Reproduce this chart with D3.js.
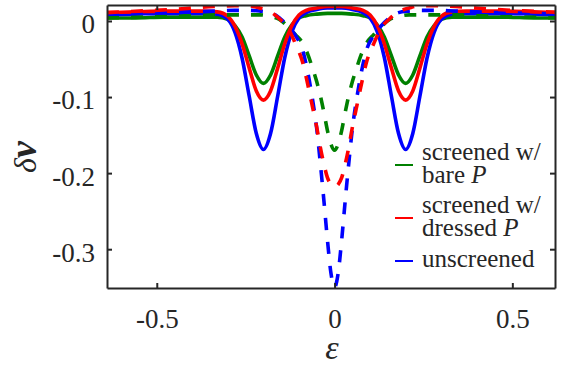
<!DOCTYPE html>
<html>
<head>
<meta charset="utf-8">
<script src="https://cdn.jsdelivr.net/npm/d3@7"></script>
<style>
  body { margin: 0; background: #fff; }
</style>
</head>
<body>
<svg id="drawing_region"></svg>
<script>
// values
const epsSolid = [-0.64,-0.56,-0.48,-0.42,-0.37,-0.33,-0.30,-0.28,-0.26,-0.24,-0.22,-0.20,-0.18,-0.16,-0.14,-0.12,-0.10,-0.08,-0.05,-0.02,0,
                  0.02,0.05,0.08,0.10,0.12,0.14,0.16,0.18,0.20,0.22,0.24,0.26,0.28,0.30,0.33,0.37,0.42,0.48,0.56,0.64];
const solidBare = [0.004,0.004,0.005,0.005,0.005,0.005,0.002,-0.006,-0.021,-0.046,-0.071,-0.082,-0.071,-0.046,-0.021,-0.005,0.004,0.007,0.009,0.010,0.010,
                   0.010,0.009,0.007,0.004,-0.005,-0.021,-0.046,-0.071,-0.082,-0.071,-0.046,-0.021,-0.006,0.002,0.005,0.005,0.005,0.005,0.004,0.004];
const solidDressed = [0.011,0.012,0.013,0.013,0.013,0.012,0.006,-0.007,-0.030,-0.062,-0.092,-0.104,-0.092,-0.062,-0.030,-0.006,0.008,0.014,0.017,0.019,0.019,
                      0.019,0.017,0.014,0.008,-0.006,-0.030,-0.062,-0.092,-0.104,-0.092,-0.062,-0.030,-0.007,0.006,0.012,0.013,0.013,0.013,0.012,0.011];
const solidUnscreened = [0.008,0.009,0.010,0.010,0.010,0.009,0.002,-0.015,-0.049,-0.099,-0.148,-0.169,-0.148,-0.099,-0.048,-0.014,0.004,0.011,0.015,0.017,0.017,
                         0.017,0.015,0.011,0.004,-0.014,-0.048,-0.099,-0.148,-0.169,-0.148,-0.099,-0.049,-0.015,0.002,0.009,0.010,0.010,0.010,0.009,0.008];

const epsDashed = [-0.64,-0.55,-0.46,-0.40,-0.34,-0.28,-0.24,-0.21,-0.18,-0.155,-0.13,-0.11,-0.09,-0.076,-0.062,-0.05,-0.04,-0.03,-0.02,-0.01,0,
                   0.01,0.02,0.03,0.04,0.05,0.062,0.076,0.09,0.11,0.13,0.155,0.18,0.21,0.24,0.28,0.34,0.40,0.46,0.55,0.64];
const dashedBare = [0.004,0.005,0.006,0.007,0.008,0.008,0.008,0.008,0.006,0.002,-0.008,-0.018,-0.029,-0.043,-0.062,-0.080,-0.098,-0.120,-0.144,-0.162,-0.170,
                    -0.162,-0.144,-0.120,-0.098,-0.080,-0.062,-0.043,-0.029,-0.018,-0.008,0.002,0.006,0.008,0.008,0.008,0.008,0.007,0.006,0.005,0.004];
const dashedDressed = [0.011,0.013,0.015,0.017,0.019,0.020,0.020,0.017,0.012,0.003,-0.010,-0.030,-0.054,-0.082,-0.113,-0.140,-0.166,-0.188,-0.206,-0.215,-0.218,
                       -0.215,-0.206,-0.188,-0.166,-0.140,-0.113,-0.082,-0.054,-0.030,-0.010,0.003,0.012,0.017,0.020,0.020,0.019,0.017,0.015,0.013,0.011];
const dashedUnscreened = [0.009,0.010,0.011,0.012,0.013,0.014,0.014,0.013,0.011,0.004,-0.007,-0.019,-0.038,-0.066,-0.103,-0.142,-0.187,-0.236,-0.288,-0.332,-0.350,
                          -0.332,-0.288,-0.236,-0.187,-0.142,-0.103,-0.066,-0.038,-0.019,-0.007,0.004,0.011,0.013,0.014,0.014,0.013,0.012,0.011,0.010,0.009];

const xTicks = [-0.5, 0, 0.5];
const yTicks = [0, -0.1, -0.2, -0.3];
const xDomain = [-0.64, 0.62];
const yDomain = [-0.351, 0.021];

const config = {
    width: 565,
    height: 372,
    margin: {top: 5, right: 10, bottom: 84, left: 107}
};

const colors = {bare: '#008000', dressed: '#ff0000', unscreened: '#0000ff'};
const serif = 'Liberation Serif';
const ink = '#262626';

const svg = d3.select('#drawing_region')
    .attr('width', config.width)
    .attr('height', config.height);

const inner_width = config.width - config.margin.left - config.margin.right;
const inner_height = config.height - config.margin.top - config.margin.bottom;

const chart = svg.append('g')
    .attr('transform', `translate(${config.margin.left}, ${config.margin.top})`);

const xscale = d3.scaleLinear().domain(xDomain).range([0, inner_width]);
const yscale = d3.scaleLinear().domain(yDomain).range([inner_height, 0]);

svg.append('defs').append('clipPath').attr('id', 'plotclip')
    .append('rect').attr('width', inner_width).attr('height', inner_height);

const line = d3.line()
    .x(d => xscale(d[0]))
    .y(d => yscale(d[1]))
    .curve(d3.curveMonotoneX);

const curves = chart.append('g').attr('clip-path', 'url(#plotclip)');

function draw(xs, ys, color, dashed) {
    curves.append('path')
        .attr('d', line(xs.map((x, i) => [x, ys[i]])))
        .attr('fill', 'none')
        .attr('stroke', color)
        .attr('stroke-width', 3.6)
        .attr('stroke-linejoin', 'round')
        .attr('stroke-dasharray', dashed ? '12,12' : null);
}

draw(epsSolid, solidBare, colors.bare, false);
draw(epsSolid, solidUnscreened, colors.unscreened, false);
draw(epsSolid, solidDressed, colors.dressed, false);
draw(epsDashed, dashedBare, colors.bare, true);
draw(epsDashed, dashedUnscreened, colors.unscreened, true);
draw(epsDashed, dashedDressed, colors.dressed, true);

// box axes, ticks pointing inwards
const fmt = d => String(d);
const xaxis = chart.append('g')
    .attr('transform', `translate(0, ${inner_height})`)
    .call(d3.axisBottom(xscale).tickValues(xTicks).tickSize(-5).tickSizeOuter(0).tickFormat(fmt));
const yaxis = chart.append('g')
    .call(d3.axisLeft(yscale).tickValues(yTicks).tickSize(-5).tickSizeOuter(0).tickFormat(fmt));
chart.append('g')
    .call(d3.axisTop(xscale).tickValues(xTicks).tickSize(-5).tickSizeOuter(0).tickFormat(''));
chart.append('g')
    .attr('transform', `translate(${inner_width}, 0)`)
    .call(d3.axisRight(yscale).tickValues(yTicks).tickSize(-5).tickSizeOuter(0).tickFormat(''));

chart.selectAll('.domain, .tick line')
    .attr('stroke', ink)
    .attr('stroke-width', 2);

xaxis.selectAll('text')
    .attr('y', 40).attr('dy', 0)
    .style('font-family', serif).style('font-size', '27px').attr('fill', ink);
yaxis.selectAll('text')
    .attr('x', -12).attr('dy', '0.44em')
    .style('font-family', serif).style('font-size', '27px').attr('fill', ink);

// axis labels
svg.append('text')
    .attr('x', 332).attr('y', 359)
    .attr('text-anchor', 'middle')
    .style('font-family', serif).style('font-size', '34px').style('font-style', 'italic')
    .attr('fill', ink)
    .text('ε');

const ylab = svg.append('text')
    .attr('transform', 'translate(36, 157) rotate(-90)')
    .attr('text-anchor', 'middle')
    .style('font-family', serif).attr('fill', ink);
ylab.append('tspan').style('font-size', '32px').style('font-style', 'italic').text('δ');
ylab.append('tspan').style('font-size', '38px').style('font-style', 'italic').style('font-weight', 'bold').text('ν');

// legend
const legend = svg.append('g');
const legendItems = [
    {color: colors.bare, y: 165, lines: [['screened w/', ''], ['bare ', 'P']]},
    {color: colors.dressed, y: 218, lines: [['screened w/', ''], ['dressed ', 'P']]},
    {color: colors.unscreened, y: 261, lines: [['unscreened', '']]}
];
legendItems.forEach(item => {
    legend.append('line')
        .attr('x1', 395).attr('x2', 413)
        .attr('y1', item.y).attr('y2', item.y)
        .attr('stroke', item.color).attr('stroke-width', 2);
    const n = item.lines.length;
    item.lines.forEach((l, i) => {
        const t = legend.append('text')
            .attr('x', 422)
            .attr('y', item.y + 6 + (i - (n - 1) / 2) * 23)
            .style('font-family', serif).style('font-size', '25px')
            .attr('fill', ink);
        t.append('tspan').text(l[0]);
        if (l[1]) t.append('tspan').style('font-style', 'italic').text(l[1]);
    });
});
</script>
</body>
</html>
